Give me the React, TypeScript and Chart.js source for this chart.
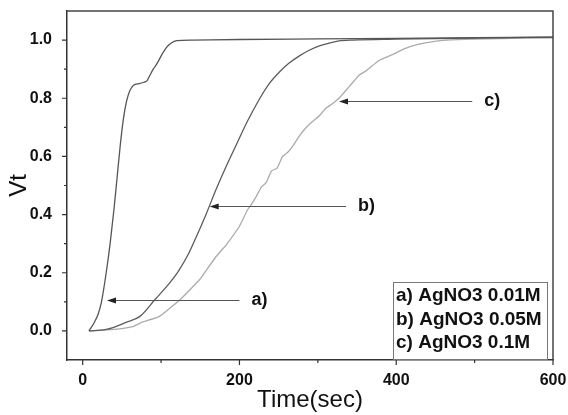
import React, { useEffect, useRef } from 'react';
import { Chart, registerables } from 'chart.js';

Chart.register(...registerables);

// ---- data ----
const timeA = [8, 15, 20, 24, 30, 35, 40, 44, 48, 52, 56, 60, 65, 72, 78, 82, 86, 90, 95, 101, 107, 113, 120, 140, 200, 300, 400, 500, 600];
const vtA = [0, 0.03, 0.06, 0.1, 0.2, 0.3, 0.42, 0.53, 0.64, 0.73, 0.79, 0.825, 0.845, 0.85, 0.855, 0.86, 0.88, 0.9, 0.92, 0.95, 0.975, 0.99, 0.998, 1.0, 1.002, 1.004, 1.006, 1.008, 1.01];

const timeB = [8, 30, 56, 73, 92, 111, 122, 134, 146, 158, 170, 183, 196, 210, 225, 238, 251, 263, 276, 289, 302, 315, 327, 345, 400, 500, 600];
const vtB = [0, 0.005, 0.03, 0.05, 0.107, 0.165, 0.205, 0.26, 0.33, 0.405, 0.485, 0.565, 0.64, 0.72, 0.795, 0.85, 0.89, 0.92, 0.945, 0.965, 0.98, 0.99, 0.997, 1.0, 1.003, 1.007, 1.01];

const timeC = [8, 40, 64, 76, 98, 124, 149, 153, 170, 178, 183, 200, 210, 214, 221, 228, 234, 241, 248, 255, 262, 268, 275, 282, 289, 302, 310, 318, 327, 340, 353, 362, 378, 395, 410, 429, 447, 464, 500, 600];
const vtC = [0, 0.005, 0.015, 0.03, 0.05, 0.107, 0.176, 0.19, 0.255, 0.28, 0.295, 0.36, 0.415, 0.43, 0.46, 0.495, 0.51, 0.55, 0.56, 0.6, 0.615, 0.635, 0.665, 0.69, 0.71, 0.74, 0.765, 0.78, 0.8, 0.84, 0.88, 0.895, 0.93, 0.95, 0.97, 0.986, 0.995, 1.0, 1.003, 1.008];

const seriesLabels = ['a) AgNO3 0.01M', 'b) AgNO3 0.05M', 'c) AgNO3 0.1M'];
const seriesColors = ['#555555', '#5c5c5c', '#ababab'];

const xMajorTicks = [0, 200, 400, 600];
const xMinorTicks = [100, 300, 500];
const yMajorTicks = [0, 0.2, 0.4, 0.6, 0.8, 1.0];
const yMinorTicks = [0.1, 0.3, 0.5, 0.7, 0.9];

const arrowLabels = ['a)', 'b)', 'c)'];
const arrowTipX = [31, 162, 327];
const arrowTailX = [200, 336, 497];
const arrowY = [0.107, 0.431, 0.79];

const FONT = "'Liberation Sans', Arial, sans-serif";

const toPoints = (t: number[], v: number[]) => t.map((x, i) => ({ x, y: v[i] }));

const decorPlugin = {
  id: 'decor',
  afterDraw(chart: any) {
    const { ctx, chartArea: ca, scales } = chart;
    const xs = scales.x;
    const ys = scales.y;
    ctx.save();
    // frame (top, right)
    ctx.strokeStyle = '#444';
    ctx.lineWidth = 1.5;
    ctx.beginPath();
    ctx.moveTo(ca.left, ca.top);
    ctx.lineTo(ca.right, ca.top);
    ctx.lineTo(ca.right, ca.bottom);
    ctx.stroke();

    // tick marks
    ctx.strokeStyle = '#333';
    ctx.lineWidth = 1.2;
    ctx.beginPath();
    xMajorTicks.forEach((v) => {
      const px = xs.getPixelForValue(v);
      ctx.moveTo(px, ca.bottom);
      ctx.lineTo(px, ca.bottom + 5);
    });
    xMinorTicks.forEach((v) => {
      const px = xs.getPixelForValue(v);
      ctx.moveTo(px, ca.bottom);
      ctx.lineTo(px, ca.bottom + 3);
    });
    yMajorTicks.forEach((v) => {
      const py = ys.getPixelForValue(v);
      ctx.moveTo(ca.left, py);
      ctx.lineTo(ca.left - 5, py);
    });
    yMinorTicks.forEach((v) => {
      const py = ys.getPixelForValue(v);
      ctx.moveTo(ca.left, py);
      ctx.lineTo(ca.left - 3, py);
    });
    ctx.stroke();

    // arrows with labels
    arrowLabels.forEach((lab, i) => {
      const x1 = xs.getPixelForValue(arrowTailX[i]);
      const x0 = xs.getPixelForValue(arrowTipX[i]);
      const py = Math.round(ys.getPixelForValue(arrowY[i])) + 0.5;
      ctx.strokeStyle = '#555';
      ctx.lineWidth = 1;
      ctx.beginPath();
      ctx.moveTo(x1, py);
      ctx.lineTo(x0 + 6, py);
      ctx.stroke();
      ctx.fillStyle = '#222';
      ctx.beginPath();
      ctx.moveTo(x0, py);
      ctx.lineTo(x0 + 9, py - 3);
      ctx.lineTo(x0 + 9, py + 3);
      ctx.closePath();
      ctx.fill();
      ctx.fillStyle = '#111';
      ctx.font = `bold 18px ${FONT}`;
      ctx.textAlign = 'left';
      ctx.textBaseline = 'middle';
      ctx.fillText(lab, x1 + 12, py);
    });

    // legend box
    const bx = ca.right - 160;
    const by = 282;
    const bw = 154;
    const bh = ca.bottom - 1 - by;
    ctx.strokeStyle = '#777';
    ctx.lineWidth = 1;
    ctx.strokeRect(bx + 0.5, by + 0.5, bw, bh);
    ctx.fillStyle = '#111';
    ctx.font = `bold 19px ${FONT}`;
    ctx.textAlign = 'left';
    ctx.textBaseline = 'middle';
    chart.data.datasets.forEach((ds: any, i: number) => {
      ctx.fillText(ds.label, bx + 3, by + 14 + i * 23.5);
    });
    ctx.restore();
  },
};

export default function App() {
  const ref = useRef<HTMLCanvasElement | null>(null);
  useEffect(() => {
    if (!ref.current) return;
    const chart = new Chart(ref.current, {
      type: 'line',
      data: {
        datasets: [
          { label: seriesLabels[0], data: toPoints(timeA, vtA), borderColor: seriesColors[0], borderWidth: 1.3, pointRadius: 0, cubicInterpolationMode: 'monotone', fill: false },
          { label: seriesLabels[1], data: toPoints(timeB, vtB), borderColor: seriesColors[1], borderWidth: 1.3, pointRadius: 0, cubicInterpolationMode: 'monotone', fill: false },
          { label: seriesLabels[2], data: toPoints(timeC, vtC), borderColor: seriesColors[2], borderWidth: 1.3, pointRadius: 0, tension: 0.15, fill: false },
        ],
      },
      options: {
        responsive: false,
        animation: false,
        layout: { padding: { left: 0, top: 11, right: 15, bottom: 0 } },
        plugins: { legend: { display: false }, tooltip: { enabled: false } },
        scales: {
          x: {
            type: 'linear',
            min: -20,
            max: 600,
            afterBuildTicks: (s: any) => { s.ticks = xMajorTicks.map((v) => ({ value: v })); },
            afterFit: (s: any) => { s.height = 55; s.paddingLeft = 0; s.paddingRight = 0; },
            grid: { display: false, drawTicks: false },
            border: { display: true, color: '#333', width: 1.5 },
            ticks: { font: { family: FONT, size: 16, weight: 'bold' }, color: '#111', padding: 11, maxRotation: 0 },
            title: { display: true, text: 'Time(sec)', font: { family: FONT, size: 24 }, color: '#111', padding: { top: 0, bottom: 0 } },
          },
          y: {
            type: 'linear',
            min: -0.1,
            max: 1.1,
            afterBuildTicks: (s: any) => { s.ticks = yMajorTicks.map((v) => ({ value: v })); },
            afterFit: (s: any) => { s.width = 67; s.paddingTop = 0; s.paddingBottom = 0; },
            grid: { display: false, drawTicks: false },
            border: { display: true, color: '#333', width: 1.5 },
            ticks: { font: { family: FONT, size: 16, weight: 'bold' }, color: '#111', padding: 15, callback: (v: any) => Number(v).toFixed(1) },
            title: { display: true, text: 'Vt', font: { family: FONT, size: 24 }, color: '#111', padding: { top: 5, bottom: 0 } },
          },
        },
      },
      plugins: [decorPlugin],
    } as any);
    return () => chart.destroy();
  }, []);
  return (
    <div style={{ position: 'absolute', left: 0, top: 0, width: 568, height: 415, background: '#fff' }}>
      <canvas ref={ref} width={568} height={415} style={{ display: 'block' }} />
    </div>
  );
}
